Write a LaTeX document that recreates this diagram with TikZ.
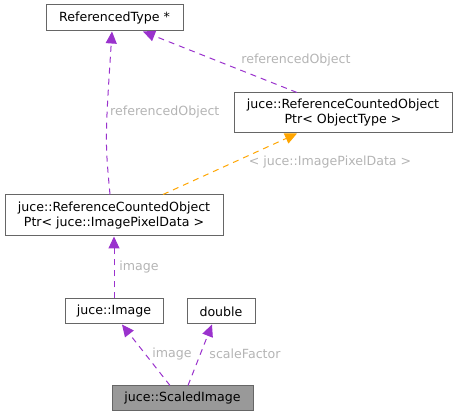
\documentclass[tikz,border=0pt]{standalone}
\usepackage{fontspec}
\setmainfont{DejaVu Sans}
\usetikzlibrary{arrows.meta}
\definecolor{edgepurple}{HTML}{9A32CD}
\definecolor{edgeorange}{HTML}{FFA500}
\definecolor{lblgray}{HTML}{B4B4B4}
\definecolor{boxgray}{HTML}{666666}
\definecolor{fillgray}{HTML}{999999}
\begin{document}
\begin{tikzpicture}[x=1pt,y=-1pt,
  cls/.style={draw=boxgray, line width=1pt, fill=white, inner sep=0pt, align=center, font=\fontsize{12.6}{15}\selectfont},
  rel/.style={draw=edgepurple, line width=1pt, dashed, dash pattern=on 6pt off 5pt, -{Triangle[length=12pt,width=11pt]}},
  tmpl/.style={draw=edgeorange, line width=1pt, dashed, dash pattern=on 6pt off 5pt, -{Triangle[length=12pt,width=11pt]}},
  lbl/.style={text=lblgray, font=\fontsize{12.6}{15}\selectfont, inner sep=0pt}]
\useasboundingbox (0,0) rectangle (459,417);
\node[cls, minimum width=137pt, minimum height=26pt] (rt) at (114.5,18) {ReferencedType *};
\node[cls, minimum width=218pt, minimum height=40pt] (rcot) at (343,113) {juce::ReferenceCountedObject\\Ptr< ObjectType >};
\node[cls, minimum width=218pt, minimum height=41pt] (rcip) at (114,215.5) {juce::ReferenceCountedObject\\Ptr< juce::ImagePixelData >};
\node[cls, minimum width=98pt, minimum height=25pt] (img) at (114,311.5) {juce::Image};
\node[cls, minimum width=68pt, minimum height=25pt] (dbl) at (221,311.5) {double};
\node[cls, fill=fillgray, minimum width=141pt, minimum height=25pt] (si) at (182.5,398.5) {juce::ScaledImage};
\coordinate (c1) at (105,140);
\draw[rel] (rcip.north -| 110,0) .. controls (c1) .. (rt.south -| 112,0);
\node[lbl, anchor=west] (l1) at (110,112) {referencedObject};
\draw[rel] (rcot.north -| 297,0) -- (rt.south -| 143,0);
\node[lbl] (l2) at (296,60) {referencedObject};
\draw[tmpl] (rcip.north -| 163,0) -- (rcot.south -| 297,0);
\node[lbl] (l3) at (330,162) {< juce::ImagePixelData >};
\draw[rel] (img.north) -- (rcip.south);
\node[lbl] (l4) at (139,267) {image};
\draw[rel] (si.north -| 170,0) -- (img.south -| 122,0);
\node[lbl] (l5) at (172,354) {image};
\draw[rel] (si.north -| 188,0) -- (dbl.south -| 212,0);
\node[lbl] (l6) at (245,354) {scaleFactor};
\end{tikzpicture}
\end{document}
